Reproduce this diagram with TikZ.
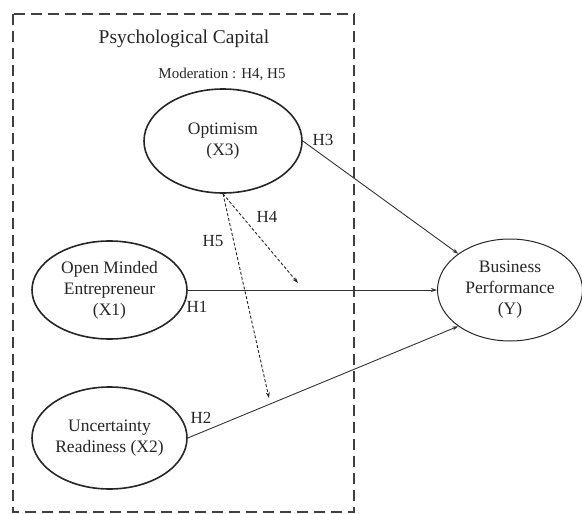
\documentclass[tikz,border=0pt]{standalone}
\usepackage{fontspec}
\setmainfont{Liberation Serif}
\usetikzlibrary{arrows.meta,shapes.geometric}
\begin{document}
\begin{tikzpicture}[x=1pt,y=-1pt,
  latent/.style={ellipse,draw=black!85,line width=1.6pt,inner sep=0pt,
    align=center,font=\fontsize{17.5}{21}\selectfont,text=black!85},
  hlabel/.style={font=\fontsize{17}{20}\selectfont,text=black!85,inner sep=0pt},
  path/.style={draw=black!80,line width=0.9pt,-{Stealth[length=6pt,width=4pt]}},
  modpath/.style={draw=black!85,line width=0.9pt,dash pattern=on 3pt off 2pt,
    -{Stealth[length=6pt,width=4pt]}},
  boxline/.style={draw=black!75,line width=1.7pt,dash pattern=on 11pt off 6pt}
]
\useasboundingbox (0,0) rectangle (582,514);
\draw[boxline] (13,14) rectangle (354,512);
\node[inner sep=0pt,font=\fontsize{19.5}{22}\selectfont,text=black!85] (title) at (184,39) {Psychological Capital};
\node[inner sep=0pt,font=\fontsize{15}{18}\selectfont,text=black!85] (mod) at (222,74) {Moderation : H4, H5};
\node[latent,minimum width=158pt,minimum height=104pt] (opt) at (223,141) {Optimism\\(X3)};
\node[latent,minimum width=155pt,minimum height=98pt] (ome) at (109.5,290) {Open Minded\\Entrepreneur\\(X1)};
\node[latent,minimum width=155pt,minimum height=102pt] (unc) at (109.5,438) {Uncertainty\\Readiness (X2)};
\node[latent,line width=1pt,minimum width=145pt,minimum height=102pt] (bp) at (510,290) {Business\\Performance\\(Y)};
\coordinate (h4end) at (298,283);
\coordinate (h5end) at (269,398);
\draw[path] (opt.east) -- (bp.145);
\draw[path] (ome.east) -- (bp.west);
\draw[path] (unc.east) -- (bp.215);
\draw[modpath] (opt.south) -- (h4end);
\draw[modpath] (opt.south) -- (h5end);
\node[hlabel] (l3) at (323,140) {H3};
\node[hlabel] (l4) at (267,217) {H4};
\node[hlabel] (l5) at (213,241) {H5};
\node[hlabel] (l1) at (197,307) {H1};
\node[hlabel] (l2) at (201,418) {H2};
\end{tikzpicture}
\end{document}
